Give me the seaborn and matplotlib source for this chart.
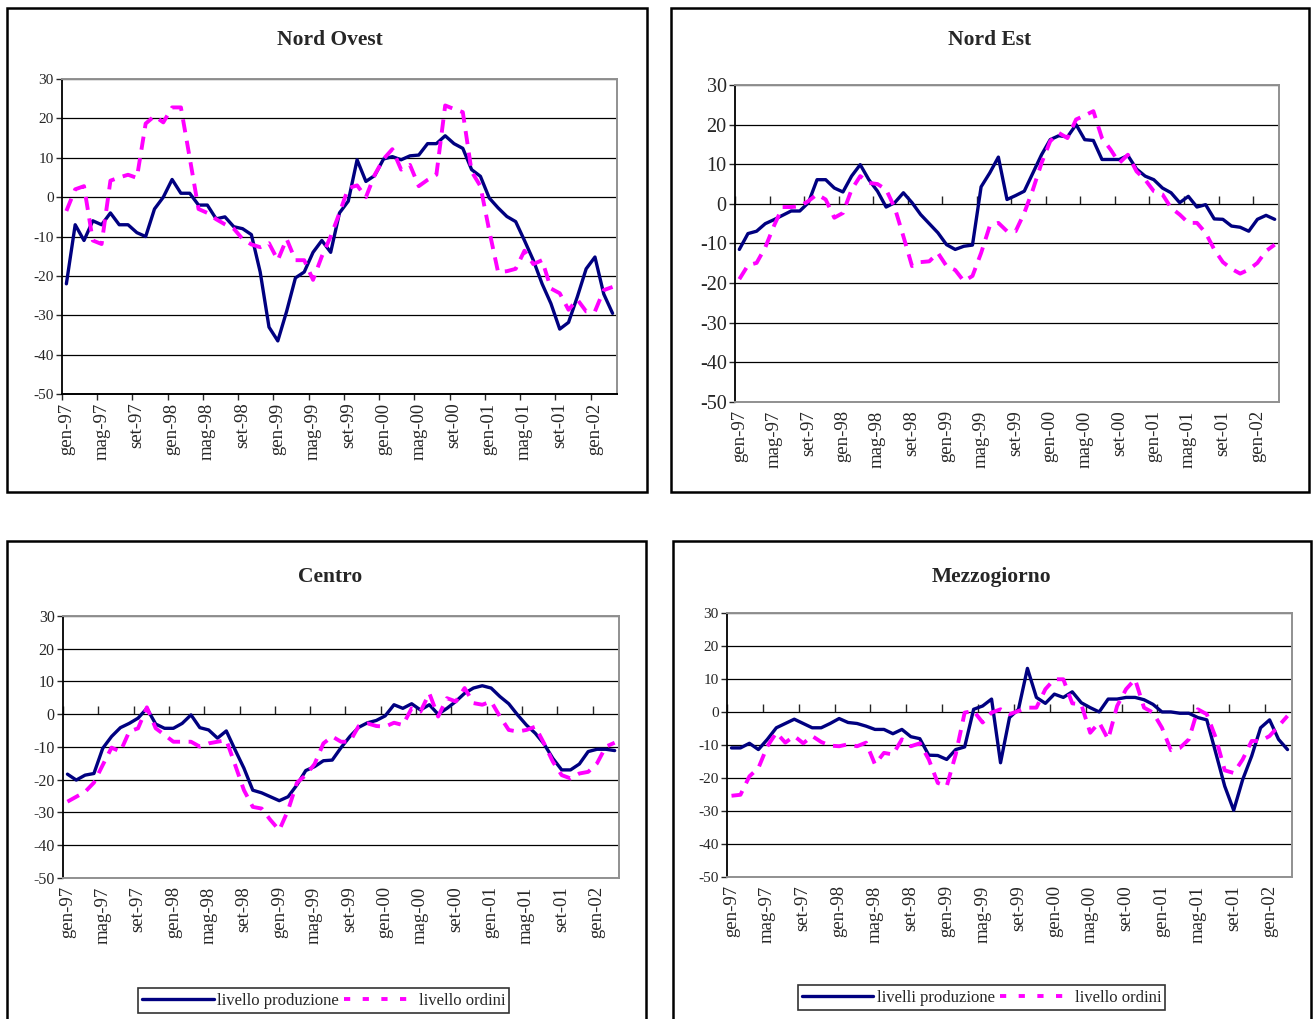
import numpy as np
import pandas as pd
import matplotlib
matplotlib.use("Agg")
import matplotlib.pyplot as plt
from matplotlib.patches import Rectangle
import seaborn as sns

# monthly data gen-97 .. mar-02 (63 months)
tick_labels = ["gen-97", "mag-97", "set-97", "gen-98", "mag-98", "set-98",
               "gen-99", "mag-99", "set-99", "gen-00", "mag-00", "set-00",
               "gen-01", "mag-01", "set-01", "gen-02"]

nord_ovest_prod = [-22, -7, -11, -6, -7, -4, -7, -7, -9, -10, -3, 0, 4.5, 1, 1, -2,
                   -2, -5.5, -5, -7.5, -8, -9.5, -19, -33, -36.5, -29, -20.5, -19, -14, -11, -14, -4,
                   -1, 9.5, 4, 5.5, 9.7, 10.3, 9.5, 10.5, 10.7, 13.6, 13.6, 15.6, 13.6, 12.4, 7, 5.3,
                   -0.2, -2.7, -4.9, -6.2, -11, -16, -22, -27, -33.5, -31.8, -25.3, -18.2, -15.2, -24.6, -29.5]
nord_ovest_ord = [-3.5, 2, 2.8, -11, -11.9, 4.2, 5, 5.7, 4.9, 18.7, 20.6, 19, 22.8, 22.8, 10, -3,
                  -4, -5.6, -6.9, -8, -10.6, -12, -12.7, -11.7, -16, -10.6, -16, -16, -21, -15, -10, -4,
                  2.3, 3, 0, 5.7, 9.7, 12.2, 7, 8.2, 2.8, 4.4, 5.7, 23.3, 22.4, 21.6, 6.5, 2.8,
                  -8.5, -19, -18.8, -18.2, -13.6, -17, -16, -23.2, -24.4, -28.6, -26, -29, -29, -23.6, -22.8]

nord_est_prod = [-11.5, -7.5, -6.9, -5, -4, -2.9, -1.8, -1.8, 0.3, 6.1, 6.1, 4, 3, 7, 9.9, 6.1,
                 3.2, -0.8, 0.3, 2.8, 0.3, -2.7, -5, -7.3, -10.3, -11.5, -10.7, -10.4, 4.3, 7.8, 11.8, 1.1,
                 2.1, 3.2, 7.8, 12.4, 16.2, 17.2, 16.9, 20, 16.2, 16, 11.2, 11.2, 11.2, 12.2, 8.8, 7,
                 6.1, 4, 2.8, 0.3, 1.9, -0.8, -0.2, -3.8, -3.9, -5.6, -5.9, -6.9, -3.9, -2.9, -3.9]
nord_est_ord = [-19, -15.5, -14.9, -11, -5.6, -0.8, -0.8, -0.6, 0.7, 2.4, 1.1, -3.5, -2.3, 3.6, 7, 5.3,
                5, 3.6, -1, -8.2, -15.7, -14.7, -14.5, -12.4, -15.7, -16.7, -19.5, -18.2, -12.4, -5.6, -4.8, -6.9,
                -6.9, -2.3, 3.6, 10.3, 15.8, 17.9, 16.6, 21.3, 22.3, 23.4, 16.6, 13.7, 10.3, 12.4, 8.2, 6.1,
                3.2, 2.4, -1, -2.7, -4.8, -4.8, -7.3, -11.5, -14.7, -16.4, -17.6, -16.6, -14.9, -11.9, -10.3]

centro_prod = [-18.3, -20.1, -18.6, -18.1, -10.4, -6.8, -4.1, -2.8, -1.2, 1.8, -3, -4.3, -4.3, -2.8, -0.2, -4.1,
               -4.8, -7.3, -5.1, -10.9, -16.5, -23.2, -24, -25.2, -26.4, -25.2, -21.6, -17.2, -16, -14.2, -14, -10.2,
               -6.8, -4, -2.6, -1.9, -0.5, 2.9, 1.8, 3.2, 1.3, 2.9, 0, 1.8, 3.9, 6.4, 8, 8.7,
               8, 5.4, 3.2, -0.2, -3.3, -5.8, -9.1, -13.5, -17, -17, -15.2, -11.4, -10.7, -10.7, -11.1]
centro_ord = [-26.7, -25.2, -23.7, -20.9, -15.5, -10.2, -11.4, -5.3, -4.3, 2.1, -4.3, -6.3, -8.4, -8.4, -8.4, -9.9,
              -8.9, -8.4, -7.9, -15.5, -23.2, -28.3, -28.8, -32.3, -35.4, -29.3, -20.9, -18.6, -15.2, -8.9, -6.8, -8.4,
              -8.4, -3.6, -2.8, -3.6, -3.8, -2.6, -3.3, 1.8, 0.8, 6.4, -0.7, 4.9, 3.9, 8, 3.4, 2.9,
              3.9, -0.7, -4.8, -5.3, -4.8, -3.8, -8.9, -14.5, -18.6, -19.6, -18.1, -17.6, -15, -9.9, -8.7]

mezzogiorno_prod = [-10.9, -10.9, -9.5, -11.4, -8.3, -4.8, -3.5, -2.2, -3.5, -4.8, -4.8, -3.5, -2, -3.2, -3.5, -4.3,
                    -5.3, -5.3, -6.6, -5.3, -7.5, -8.1, -13.1, -13.2, -14.4, -11.4, -10.6, 0.8, 1.8, 3.9, -15.4, -1.7,
                    0.8, 13.2, 4.4, 2.6, 5.4, 4.4, 6.1, 2.8, 1.3, 0, 3.9, 3.9, 4.4, 4.4, 3.7, 2.3,
                    0, 0, -0.4, -0.4, -1.7, -2.4, -12.4, -22.5, -29.8, -20.5, -13.4, -4.8, -2.4, -8.3, -11.4]
mezzogiorno_ord = [-25.4, -25.1, -19.5, -17, -10.4, -6.3, -9.3, -7.3, -9.5, -7.3, -9.1, -10.2, -10.4, -9.8, -10.4, -9.3,
                   -15.9, -12.4, -12.9, -8.3, -10.4, -9.5, -14.4, -21.5, -22.5, -12.9, -0.2, 0.3, -3.2, -0.2, 0.8, -0.7,
                   0.3, 1.3, 1.3, 6.9, 9.9, 9.9, 2.6, 2.3, -6.3, -3.2, -8.3, 1.8, 6.9, 9.9, 1.3, -0.2,
                   -4.8, -11.6, -10.9, -8.3, 0.8, -0.7, -7.8, -17.7, -18.5, -14.4, -8.8, -8.8, -7.3, -4.3, -1.2]

NAVY = "#000080"
PINK = "#FF00FF"

sns.set_style("white")
plt.rcParams["font.family"] = ["Liberation Serif", "DejaVu Serif"]
plt.rcParams["axes.unicode_minus"] = False

fig = plt.figure(figsize=(13.13, 10.19), dpi=100)

# outer chart boxes (figure fraction)
boxes = [(0.0053, 0.5172, 0.4875, 0.4749), (0.511, 0.5172, 0.486, 0.4749),
         (0.0053, -0.02, 0.4867, 0.4891), (0.5126, -0.02, 0.4859, 0.4891)]
for bx in boxes:
    fig.patches.append(Rectangle(bx[:2], bx[2], bx[3], transform=fig.transFigure,
                                 fill=False, edgecolor="black", linewidth=1.8))

panels = [
    ("Nord Ovest", nord_ovest_prod, nord_ovest_ord, [0.0472, 0.6133, 0.4227, 0.3091], 11, False, None),
    ("Nord Est", nord_est_prod, nord_est_ord, [0.5598, 0.6055, 0.4143, 0.3111], 14.5, True, None),
    ("Centro", centro_prod, centro_ord, [0.048, 0.1384, 0.4235, 0.2571], 11.5, True, "livello produzione"),
    ("Mezzogiorno", mezzogiorno_prod, mezzogiorno_ord, [0.5537, 0.1394, 0.4303, 0.2591], 11, True, "livelli produzione"),
]

title_pos = [(0.2513, 0.961), (0.754, 0.961), (0.2513, 0.434), (0.755, 0.434)]
legend_pos = [None, None, (0.2465, 0.018), (0.7475, 0.021)]

for k, (name, prod, ordini, rect, ysize, zero_ticks, prod_label) in enumerate(panels):
    ax = fig.add_axes(rect)
    n = len(prod)
    df = pd.DataFrame({"mese": np.arange(n), "prod": prod, "ord": ordini})
    sns.lineplot(data=df, x="mese", y="prod", ax=ax, color=NAVY, linewidth=2.4,
                 label=prod_label or "livello produzione")
    sns.lineplot(data=df, x="mese", y="ord", ax=ax, color=PINK, linewidth=2.8,
                 dashes=False, label="livello ordini")
    ax.lines[-1].set_dashes([3.4, 2.2])

    ax.set_xlim(-0.5, n - 0.5)
    ax.set_ylim(-50, 30)
    ax.set_yticks(np.arange(-50, 31, 10))
    ax.yaxis.grid(True, color="black", linewidth=0.9)
    ax.set_axisbelow(True)
    ax.set_xlabel("")
    ax.set_ylabel("")
    ax.tick_params(axis="y", left=True, direction="out", length=4, width=1,
                   labelsize=ysize, pad=2)

    ax.set_xticks(np.arange(0, n, 4))
    ax.set_xticklabels(tick_labels, rotation=90, fontsize=13.5)
    ax.set_xticks(np.arange(-0.5, n, 4), minor=True)
    ax.tick_params(axis="x", which="major", length=0, pad=6)
    ax.tick_params(axis="x", which="minor", bottom=not zero_ticks, length=4, width=1)

    for side in ["top", "right", "bottom"]:
        ax.spines[side].set_color("#909090")
        ax.spines[side].set_linewidth(1.4)
    ax.spines["left"].set_color("black")
    ax.spines["left"].set_linewidth(1.3)
    if not zero_ticks:
        ax.spines["bottom"].set_color("black")

    if zero_ticks:
        # category axis crosses at zero
        sec = ax.secondary_xaxis(50 / 80)
        sec.set_xticks(np.arange(-0.5, n, 4))
        sec.set_xticklabels([])
        sec.tick_params(axis="x", length=6, width=1, direction="out")
        sec.spines["bottom"].set_visible(False)
        sec.spines["top"].set_visible(False)

    fig.text(title_pos[k][0], title_pos[k][1], name, ha="center", va="center",
             fontsize=15.5, fontweight="bold")

    if legend_pos[k] is not None:
        leg = ax.legend(loc="center", bbox_to_anchor=legend_pos[k], bbox_transform=fig.transFigure,
                        ncol=2, frameon=True, fontsize=12, handlelength=4.3, handletextpad=0.2,
                        columnspacing=0.3, borderpad=0.25, fancybox=False)
        leg.get_frame().set_edgecolor("black")
        leg.get_frame().set_linewidth(1.2)
        for h in leg.get_lines():
            if h.get_color().upper() == PINK:
                h.set_dashes([1.6, 3.2])
    else:
        ax.get_legend().remove()

fig.savefig("out.png", dpi=100)
